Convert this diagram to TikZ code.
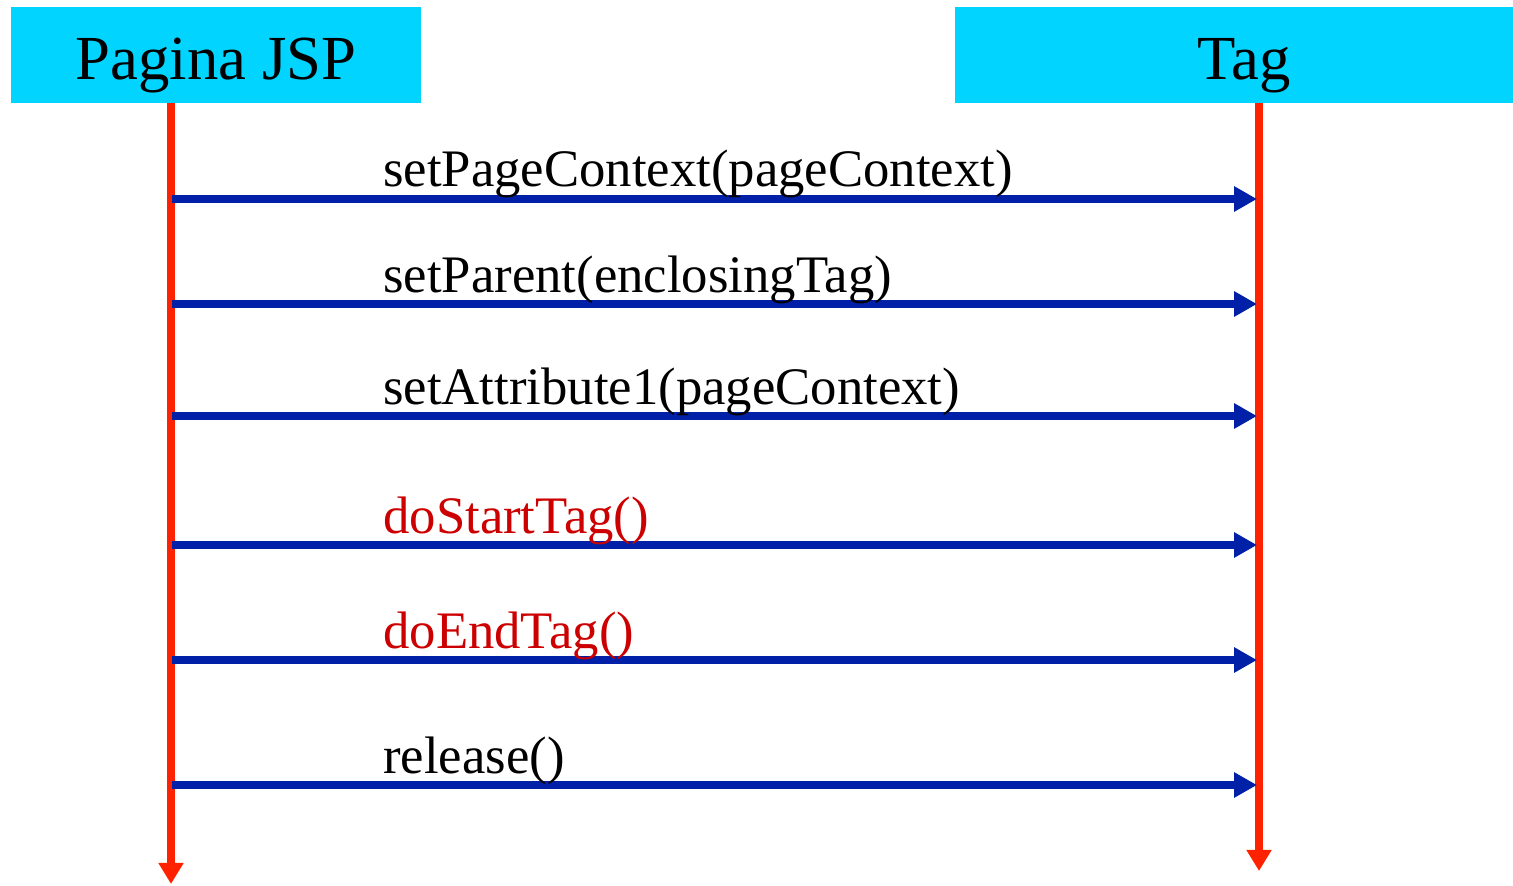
\documentclass[tikz,border=0pt]{standalone}
\usepackage{fontspec}
\setmainfont{Liberation Serif}
\usetikzlibrary{arrows.meta}
\definecolor{headcyan}{HTML}{00D4FF}
\definecolor{lifered}{HTML}{FF2200}
\definecolor{callblue}{HTML}{0020A8}
\definecolor{calltext}{HTML}{CC0000}
\tikzset{
  head/.style={fill=headcyan, minimum height=1.92cm, inner sep=0pt,
    text height=28.4pt, text depth=0pt, font=\fontsize{35.7}{42}\selectfont},
  life/.style={lifered, line width=4.5pt, -{Triangle[length=12pt,width=13.6pt]}},
  call/.style={callblue, line width=4.5pt, -{Triangle[length=13pt,width=13.6pt]}},
  msg/.style={anchor=base west, inner sep=0pt, font=\fontsize{30}{36}\selectfont},
}
\begin{document}
\begin{tikzpicture}[x=0.02cm, y=-0.02cm]
  \useasboundingbox (0,0) rectangle (1513,885);
  \node[head, minimum width=8.2cm] (jsp) at (216,55) {Pagina JSP};
  \node[head, minimum width=11.16cm] (tag) at (1234,55) {\hspace{0.4cm}Tag};
  \coordinate (jspEnd) at (171,884);
  \coordinate (tagEnd) at (1259,871);
  \draw[life] (jspEnd |- jsp.south) -- (jspEnd);
  \draw[life] (tagEnd |- tag.south) -- (tagEnd);
  % calls from the page to the tag
  \foreach \y/\txt/\col [count=\i] in {
      199/{setPageContext(pageContext)}/black,
      304/{setParent(enclosingTag)}/black,
      416/{setAttribute1(pageContext)}/black,
      545/{doStartTag()}/calltext,
      660/{doEndTag()}/calltext,
      785/{release()}/black} {
    \coordinate (from\i) at (172,\y);
    \coordinate (to\i) at (1257,\y);
    \draw[call] (from\i) -- (to\i);
    \node[msg, text=\col] (msg\i) at (383,\y-12) {\txt};
  }
\end{tikzpicture}
\end{document}
